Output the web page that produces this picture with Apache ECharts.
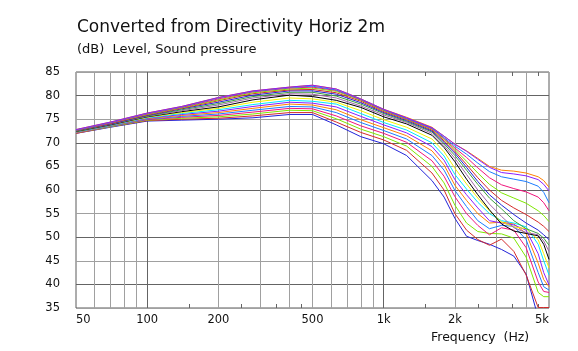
<!DOCTYPE html>
<html><head><meta charset="utf-8">
<script src="https://cdn.jsdelivr.net/npm/echarts@6/dist/echarts.min.js"></script>
<style>html,body{margin:0;padding:0;background:#fff}#c{width:578px;height:351px}</style>
</head><body><div id="c"></div>
<script>
// Frequencies (Hz) at which every curve is sampled
const freqs = [50, 70, 100, 140, 200, 280, 400, 500, 630, 800, 1000, 1250, 1600, 1800, 2000, 2240, 2500, 2800, 3150, 3550, 4000, 4500, 4750, 5000];

// Level curves (dB)
const curve00 = [72.0, 73.3, 74.6, 74.8, 75.0, 75.3, 76.0, 76.0, 73.8, 71.3, 69.8, 67.3, 62.0, 58.5, 54.0, 50.2, 49.3, 48.5, 47.4, 46.0, 42.2, 33.0, 30.0, 28.0];
const curve01 = [72.0, 73.4, 74.7, 75.0, 75.2, 75.7, 76.4, 76.4, 74.4, 72.2, 70.6, 68.4, 63.6, 60.0, 55.0, 51.5, 49.5, 48.3, 49.6, 47.0, 42.0, 35.1, 35.1, 35.1];
const curve02 = [72.1, 73.4, 74.8, 75.2, 75.5, 76.1, 76.9, 76.8, 75.1, 72.9, 71.3, 69.3, 65.0, 61.5, 56.8, 53.0, 51.2, 50.8, 50.7, 49.8, 45.8, 38.3, 37.4, 37.4];
const curve03 = [72.1, 73.5, 74.9, 75.4, 75.8, 76.5, 77.3, 77.2, 75.7, 73.6, 72.0, 70.1, 66.2, 62.9, 58.6, 55.0, 52.5, 50.5, 52.0, 51.5, 47.8, 40.5, 38.5, 38.3];
const curve04 = [72.2, 73.5, 75.0, 75.6, 76.1, 76.9, 77.7, 77.6, 76.4, 74.3, 72.6, 70.8, 67.3, 64.2, 59.9, 56.5, 53.5, 51.8, 52.5, 52.3, 49.5, 42.5, 39.5, 38.8];
const curve05 = [72.2, 73.6, 75.1, 75.8, 76.4, 77.3, 78.2, 78.0, 77.0, 74.9, 73.2, 71.5, 68.3, 65.3, 61.0, 57.8, 55.0, 53.0, 53.2, 52.8, 50.8, 44.5, 41.0, 39.5];
const curve06 = [72.3, 73.7, 75.2, 76.0, 76.7, 77.7, 78.6, 78.4, 77.6, 75.6, 73.8, 72.1, 69.2, 66.3, 62.2, 59.0, 56.2, 53.5, 53.0, 52.6, 51.5, 46.5, 42.5, 39.9];
const curve07 = [72.3, 73.7, 75.3, 76.2, 77.0, 78.1, 79.0, 78.8, 78.2, 76.2, 74.3, 72.7, 70.0, 67.2, 63.3, 60.2, 57.4, 55.0, 53.5, 53.0, 52.2, 48.5, 45.0, 42.0];
const curve08 = [72.4, 73.8, 75.4, 76.4, 77.3, 78.6, 79.5, 79.3, 78.6, 76.8, 74.9, 73.3, 70.8, 68.1, 64.6, 61.3, 58.3, 55.6, 53.2, 52.2, 51.8, 49.5, 46.5, 43.5];
const curve09 = [72.4, 73.8, 75.5, 76.6, 77.6, 79.1, 80.1, 79.8, 79.0, 77.5, 75.5, 74.0, 71.6, 69.0, 66.0, 62.3, 59.0, 55.8, 52.8, 51.3, 50.8, 50.3, 48.5, 45.3];
const curve10 = [72.5, 73.9, 75.6, 76.8, 78.0, 79.5, 80.4, 80.3, 79.5, 77.8, 75.9, 74.3, 72.0, 69.4, 66.7, 63.3, 60.0, 57.0, 54.4, 52.0, 51.0, 50.5, 49.2, 47.0];
const curve11 = [72.5, 74.0, 75.7, 77.0, 78.3, 79.8, 80.7, 80.7, 79.9, 78.2, 76.2, 74.5, 72.3, 69.8, 67.3, 64.2, 61.2, 58.3, 56.0, 53.5, 51.8, 50.8, 49.8, 48.3];
const curve12 = [72.6, 74.0, 75.8, 77.2, 78.6, 80.1, 81.0, 81.0, 80.3, 78.5, 76.4, 74.7, 72.5, 70.1, 67.8, 64.8, 61.8, 59.0, 56.8, 54.8, 53.0, 51.5, 50.5, 49.5];
const curve13 = [72.6, 74.1, 75.9, 77.3, 78.9, 80.4, 81.2, 81.3, 80.6, 78.8, 76.6, 74.9, 72.7, 70.4, 68.2, 65.4, 62.6, 60.0, 57.8, 56.2, 54.8, 53.2, 52.3, 51.2];
const curve14 = [72.7, 74.2, 76.0, 77.4, 79.1, 80.6, 81.4, 81.6, 80.9, 79.0, 76.8, 75.0, 72.9, 70.7, 68.6, 66.1, 63.6, 61.2, 59.4, 58.3, 57.2, 55.6, 54.6, 53.3];
const curve15 = [72.7, 74.2, 76.1, 77.5, 79.3, 80.8, 81.6, 81.8, 81.1, 79.1, 76.9, 75.1, 73.0, 70.9, 68.9, 66.9, 64.7, 62.6, 61.1, 60.3, 59.6, 58.5, 57.3, 55.6];
const curve16 = [72.7, 74.3, 76.2, 77.6, 79.5, 80.9, 81.7, 82.0, 81.2, 79.2, 77.0, 75.2, 73.1, 71.1, 69.3, 67.6, 65.7, 63.9, 62.8, 62.3, 61.8, 60.8, 59.5, 57.3];
const curve17 = [72.8, 74.4, 76.3, 77.7, 79.6, 81.0, 81.8, 82.2, 81.4, 79.3, 77.1, 75.4, 73.3, 71.4, 69.7, 68.3, 66.7, 65.0, 64.2, 64.0, 63.6, 62.8, 62.0, 60.6];
const curve18 = [72.8, 74.4, 76.3, 77.7, 79.6, 81.0, 81.8, 82.2, 81.4, 79.3, 77.1, 75.3, 73.2, 71.4, 69.7, 68.2, 66.5, 64.8, 63.7, 63.4, 63.0, 62.2, 61.2, 59.8];

const curveColors = ['#2323d8', '#d42a2a', '#7fe600', '#f0147c', '#1a7cff', '#ff8000', '#8a1cff', '#00e6ff', '#f2f200', '#000000', '#a066aa', '#3c9f3c',
                     '#2323d8', '#d42a2a', '#7fe600', '#f0147c', '#1a7cff', '#ff8000', '#8a1cff'];

// Axis ticks / grid positions
const xLabelValues = [50, 100, 200, 500, 1000, 2000, 5000];
const xMinorGrid = [60, 70, 80, 90, 200, 300, 400, 500, 600, 700, 800, 900, 2000, 3000, 4000];
const xMajorGrid = [100, 1000];
const xHalfTicks = [150, 250, 350, 450, 1500, 2500, 3500, 4500];
const yMajorGrid = [40, 50, 60, 70, 80];

const curves = [curve00, curve01, curve02, curve03, curve04, curve05, curve06, curve07, curve08, curve09,
                curve10, curve11, curve12, curve13, curve14, curve15, curve16, curve17, curve18];

const FONT = 'DejaVu Sans';
const chart = echarts.init(document.getElementById('c'), null, {renderer: 'canvas'});

const baseX = {type: 'log', logBase: 10, min: 50, max: 5000, gridIndex: 0,
  axisLine: {show: false}, axisLabel: {show: false}, axisTick: {show: false}, splitLine: {show: false}};

chart.setOption({
  animation: false,
  textStyle: {fontFamily: FONT},
  title: [
    {text: 'Converted from Directivity Horiz 2m', left: 77, top: 19, padding: 0,
     textStyle: {fontFamily: FONT, fontSize: 17, fontWeight: 'normal', color: '#111'}},
    {text: '(dB)  Level, Sound pressure', left: 77, top: 43, padding: 0,
     textStyle: {fontFamily: FONT, fontSize: 13, fontWeight: 'normal', color: '#111'}},
    {text: 'Frequency  (Hz)', left: 431, top: 331, padding: 0,
     textStyle: {fontFamily: FONT, fontSize: 12.5, fontWeight: 'normal', color: '#111'}}
  ],
  grid: {left: 76, top: 72, width: 473, height: 236, show: true, borderColor: '#5a5a5a', borderWidth: 1, backgroundColor: 'transparent'},
  xAxis: [
    Object.assign({}, baseX, {position: 'bottom',
      axisTick: {show: false, customValues: xMinorGrid},
      splitLine: {show: true, lineStyle: {color: '#a0a0a0', width: 1}}}),
    Object.assign({}, baseX, {position: 'bottom',
      axisTick: {show: false, customValues: xMajorGrid},
      splitLine: {show: true, lineStyle: {color: '#646464', width: 1}},
      axisLabel: {show: true, customValues: xLabelValues, margin: 6, fontSize: 11.5, color: '#111', fontFamily: FONT,
        alignMinLabel: 'left', alignMaxLabel: 'right',
        formatter: v => (v >= 1000 ? (v / 1000) + 'k' : String(v))}}),
    Object.assign({}, baseX, {position: 'bottom',
      axisTick: {show: true, inside: true, length: 4, customValues: xHalfTicks, lineStyle: {color: '#646464'}}}),
    Object.assign({}, baseX, {position: 'top',
      axisTick: {show: true, inside: true, length: 4, customValues: xHalfTicks, lineStyle: {color: '#646464'}}})
  ],
  yAxis: [
    {type: 'value', min: 35, max: 85, interval: 5, gridIndex: 0,
     axisLine: {show: false}, axisTick: {show: false},
     splitLine: {show: true, lineStyle: {color: '#a0a0a0', width: 1}},
     axisLabel: {show: true, margin: 16, fontSize: 11.5, color: '#111', fontFamily: FONT}},
    {type: 'value', min: 35, max: 85, gridIndex: 0,
     axisLine: {show: false}, axisTick: {show: false, customValues: yMajorGrid},
     splitLine: {show: true, lineStyle: {color: '#646464', width: 1}},
     axisLabel: {show: false}}
  ],
  series: curves.map((c, i) => ({
    type: 'line', name: 'curve' + i, xAxisIndex: 0, yAxisIndex: 0,
    data: freqs.map((f, j) => [f, c[j]]),
    showSymbol: false, symbol: 'none', clip: true, silent: true,
    lineStyle: {width: 1, color: curveColors[i]},
    itemStyle: {color: curveColors[i]},
    z: 3
  }))
});
</script></body></html>
